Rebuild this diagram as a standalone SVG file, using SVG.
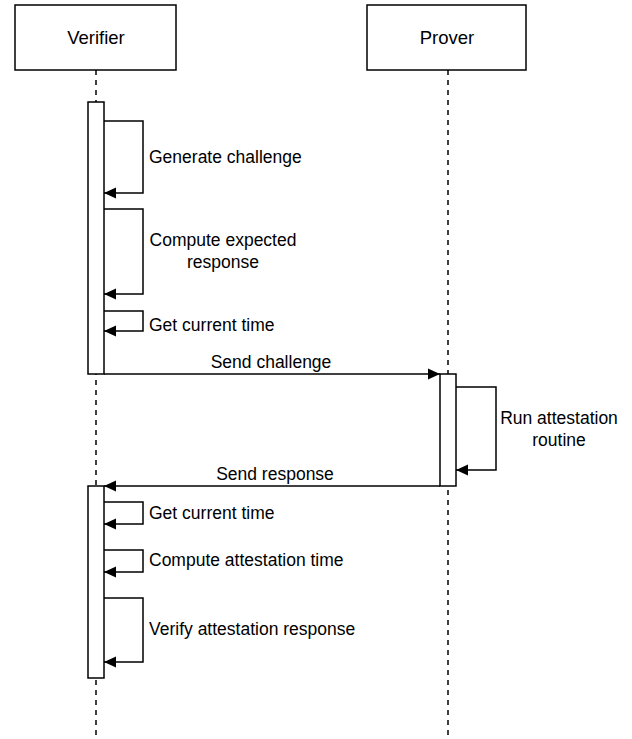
<svg xmlns="http://www.w3.org/2000/svg" width="632" height="739" viewBox="0 0 632 739">
<style>
.box{fill:#fff;stroke:#000;stroke-width:1.5}
.life{stroke:#000;stroke-width:1.5;stroke-dasharray:5 5;fill:none}
.msg{stroke:#000;stroke-width:1.5;fill:none;marker-end:url(#ah)}
text{font-family:"Liberation Sans",Arial,sans-serif;font-size:17.5px;fill:#000}
.c{text-anchor:middle}
.h{font-size:18.5px}
</style>
<defs>
<marker id="ah" viewBox="0 0 12 12" refX="12" refY="6" markerWidth="12" markerHeight="12" markerUnits="userSpaceOnUse" orient="auto">
<path d="M0,0.5 L12,6 L0,11.5 z" fill="#000"/>
</marker>
</defs>
<rect width="632" height="739" fill="#fff"/>
<g id="verifier">
<rect class="box" x="15" y="5" width="161" height="65"/>
<text class="c h" x="96" y="44">Verifier</text>
<line class="life" x1="96" y1="70" x2="96" y2="739"/>
</g>
<g id="prover">
<rect class="box" x="367" y="5" width="159" height="65"/>
<text class="c h" x="447" y="44">Prover</text>
<line class="life" x1="448" y1="70" x2="448" y2="739"/>
</g>
<g id="verifier-act1"><rect class="box" x="88" y="102" width="16" height="272"/></g>
<g id="prover-act"><rect class="box" x="440" y="374" width="16" height="112"/></g>
<g id="verifier-act2"><rect class="box" x="88" y="486" width="16" height="192"/></g>
<g id="connectors">
<path class="msg" d="M104,121 H143 V193 H104"/>
<path class="msg" d="M104,209 H143 V294 H104"/>
<path class="msg" d="M104,311 H143 V331 H104"/>
<path class="msg" d="M104,374 H440"/>
<path class="msg" d="M456,387 H496 V470 H456"/>
<path class="msg" d="M440,486 H104"/>
<path class="msg" d="M104,502 H143 V524 H104"/>
<path class="msg" d="M104,550 H143 V572 H104"/>
<path class="msg" d="M104,598 H143 V662 H104"/>
</g>
<g id="labels">
<text x="149" y="163">Generate challenge</text>
<text class="c" x="223" y="246">Compute expected</text>
<text class="c" x="223" y="268">response</text>
<text x="149" y="331">Get current time</text>
<text class="c" x="271" y="368">Send challenge</text>
<text class="c" x="559" y="424">Run attestation</text>
<text class="c" x="559" y="446">routine</text>
<text class="c" x="275" y="480">Send response</text>
<text x="149" y="519">Get current time</text>
<text x="149" y="566">Compute attestation time</text>
<text x="149" y="635">Verify attestation response</text>
</g>
</svg>
